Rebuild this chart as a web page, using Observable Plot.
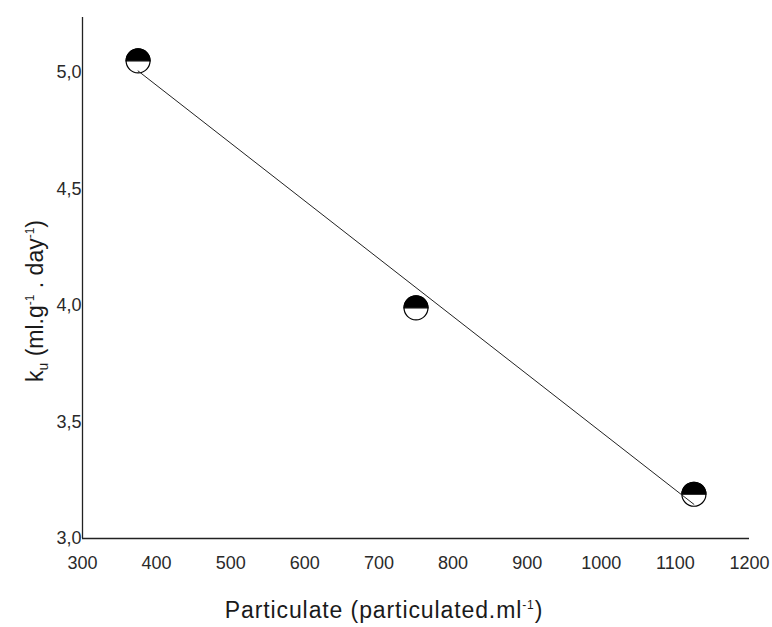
<!DOCTYPE html>
<html><head><meta charset="utf-8">
<script src="https://cdn.jsdelivr.net/npm/d3@7"></script>
<script src="https://cdn.jsdelivr.net/npm/@observablehq/plot@0.6"></script>
<style>body{margin:0;background:#fff;font-family:"Liberation Sans",Arial,sans-serif;}</style>
</head><body><div id="chart"></div>
<script>
const particulate = [375, 750, 1125];
const ku = [5.05, 3.99, 3.19];
const xTicks = [300, 400, 500, 600, 700, 800, 900, 1000, 1100, 1200];
const yTicks = [3.0, 3.5, 4.0, 4.5, 5.0];
const xLabelText = "Particulate (particulated.ml";

const data = particulate.map((x, i) => ({x, y: ku[i]}));
const fmtY = d => d.toFixed(1).replace(".", ",");
const fmtX = d => String(d);

const topHalf = {
  draw(context, size) {
    const r = Math.sqrt(size / Math.PI);
    context.moveTo(-r, 0);
    context.arc(0, 0, r, Math.PI, 2 * Math.PI);
    context.closePath();
  }
};

const plot = Plot.plot({
  width: 772,
  height: 627,
  marginLeft: 82,
  marginRight: 23,
  marginTop: 17,
  marginBottom: 89,
  style: {fontFamily: '"Liberation Sans", Arial, sans-serif', fontSize: "18px", color: "#2a2a2a", background: "#fff"},
  x: {domain: [300, 1200], ticks: xTicks, tickSize: 0, tickPadding: 18, tickFormat: fmtX, label: null},
  y: {domain: [3, 5.236], ticks: yTicks, tickSize: 0, tickPadding: 1, tickFormat: fmtY, label: null},
  marks: [
    Plot.ruleY([3], {stroke: "#222", strokeWidth: 1.3}),
    Plot.ruleX([300], {stroke: "#222", strokeWidth: 1.3}),
    Plot.dot(data, {x: "x", y: "y", r: 12, fill: "white", stroke: "black", strokeWidth: 1.2}),
    Plot.dot(data, {x: "x", y: "y", r: 12, symbol: topHalf, fill: "black", stroke: "black", strokeWidth: 1.2}),
    Plot.linearRegressionY(data, {x: "x", y: "y", ci: 0, stroke: "#222", strokeWidth: 1})
  ]
});

const svg = d3.select(plot);
// x axis title
const xt = svg.append("text")
  .attr("x", 384).attr("y", 618)
  .attr("text-anchor", "middle")
  .attr("font-size", 23).attr("fill", "#1a1a1a")
  .attr("letter-spacing", 0.9)
  .attr("font-family", '"Liberation Sans", Arial, sans-serif');
xt.append("tspan").text(xLabelText);
xt.append("tspan").attr("dy", -9).attr("font-size", 12).text("-1");
xt.append("tspan").attr("dy", 9).text(")");

// y axis title
const yt = svg.append("text")
  .attr("transform", "translate(43,301) rotate(-90)")
  .attr("text-anchor", "middle")
  .attr("font-size", 23).attr("fill", "#1a1a1a")
  .attr("font-family", '"Liberation Sans", Arial, sans-serif');
yt.append("tspan").text("k");
yt.append("tspan").attr("dy", 5).attr("font-size", 14).text("u");
yt.append("tspan").attr("dy", -5).text(" (ml.g");
yt.append("tspan").attr("dy", -9).attr("font-size", 12).text("-1");
yt.append("tspan").attr("dy", 9).text(" . day");
yt.append("tspan").attr("dy", -9).attr("font-size", 12).text("-1");
yt.append("tspan").attr("dy", 9).text(")");

document.getElementById("chart").append(plot);
</script>
</body></html>
